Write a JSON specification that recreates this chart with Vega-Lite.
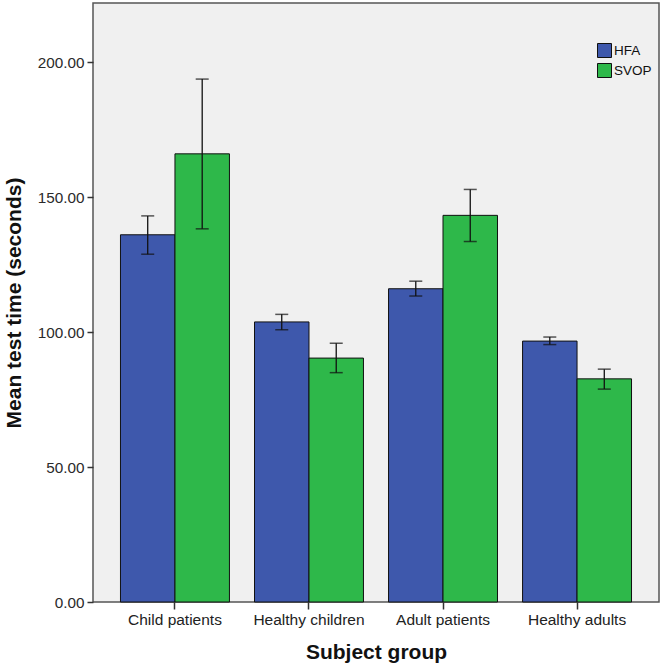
{
  "$schema": "https://vega.github.io/schema/vega-lite/v6.json",
  "width": 566,
  "height": 599,
  "autosize": "none",
  "padding": {"left": 93, "top": 3, "right": 5, "bottom": 67},
  "background": "#ffffff",
  "config": {
    "view": {"fill": "#F0F0F0", "stroke": "#555555", "strokeWidth": 1.5},
    "font": "Liberation Sans"
  },
  "data": {
    "values": [
      {"group": "Child patients", "test": "HFA", "mean": 136.1, "lo": 128.9, "hi": 143.1},
      {"group": "Child patients", "test": "SVOP", "mean": 166.1, "lo": 138.3, "hi": 193.8},
      {"group": "Healthy children", "test": "HFA", "mean": 103.8, "lo": 100.9, "hi": 106.6},
      {"group": "Healthy children", "test": "SVOP", "mean": 90.4, "lo": 85.0, "hi": 95.9},
      {"group": "Adult patients", "test": "HFA", "mean": 116.1, "lo": 113.4, "hi": 118.9},
      {"group": "Adult patients", "test": "SVOP", "mean": 143.3, "lo": 133.6, "hi": 152.9},
      {"group": "Healthy adults", "test": "HFA", "mean": 96.7, "lo": 95.4, "hi": 98.2},
      {"group": "Healthy adults", "test": "SVOP", "mean": 82.7, "lo": 78.9, "hi": 86.3}
    ]
  },
  "encoding": {
    "x": {
      "field": "group",
      "type": "nominal",
      "sort": ["Child patients", "Healthy children", "Adult patients", "Healthy adults"],
      "scale": {"paddingInner": 0.187, "paddingOuter": 0.205},
      "axis": {
        "title": "Subject group",
        "titleFontSize": 21,
        "titleFontWeight": "bold",
        "titleColor": "#111111",
        "titleY": 50,
        "titleBaseline": "middle",
        "labelAngle": 0,
        "labelFontSize": 15.5,
        "labelColor": "#222222",
        "labelPadding": 3,
        "tickSize": 7,
        "tickColor": "#333333",
        "tickWidth": 1.5,
        "domain": false
      }
    },
    "xOffset": {"field": "test", "type": "nominal", "scale": {"paddingInner": 0, "paddingOuter": 0}}
  },
  "layer": [
    {
      "mark": {"type": "bar", "stroke": "#111111", "strokeWidth": 1},
      "encoding": {
        "y": {
          "field": "mean",
          "type": "quantitative",
          "scale": {"domain": [0, 222], "nice": false},
          "axis": {
            "title": "Mean test time (seconds)",
            "titleFontSize": 21,
            "titleFontWeight": "bold",
            "titleColor": "#111111",
            "titleX": -79,
            "titleBaseline": "middle",
            "values": [0, 50, 100, 150, 200],
            "format": ".2f",
            "labelFontSize": 15.3,
            "labelColor": "#2a2a2a",
            "labelPadding": 3,
            "tickSize": 6,
            "tickColor": "#333333",
            "tickWidth": 1.5,
            "grid": false,
            "domain": false
          }
        },
        "color": {
          "field": "test",
          "type": "nominal",
          "scale": {"domain": ["HFA", "SVOP"], "range": ["#3E58AC", "#2EB84A"]},
          "legend": {
            "title": null,
            "orient": "none",
            "legendX": 504,
            "legendY": 40,
            "symbolType": "square",
            "symbolSize": 196,
            "symbolStrokeColor": "#111111",
            "symbolStrokeWidth": 1,
            "labelFontSize": 13.5,
            "labelColor": "#111111",
            "labelOffset": 2,
            "rowPadding": 1
          }
        }
      }
    },
    {
      "mark": {"type": "rule", "color": "#111111", "strokeWidth": 1.3},
      "encoding": {
        "y": {"field": "lo", "type": "quantitative"},
        "y2": {"field": "hi"}
      }
    },
    {
      "mark": {"type": "tick", "color": "#111111", "size": 13, "thickness": 1.5},
      "encoding": {
        "y": {"field": "lo", "type": "quantitative"}
      }
    },
    {
      "mark": {"type": "tick", "color": "#111111", "size": 13, "thickness": 1.5},
      "encoding": {
        "y": {"field": "hi", "type": "quantitative"}
      }
    }
  ]
}
